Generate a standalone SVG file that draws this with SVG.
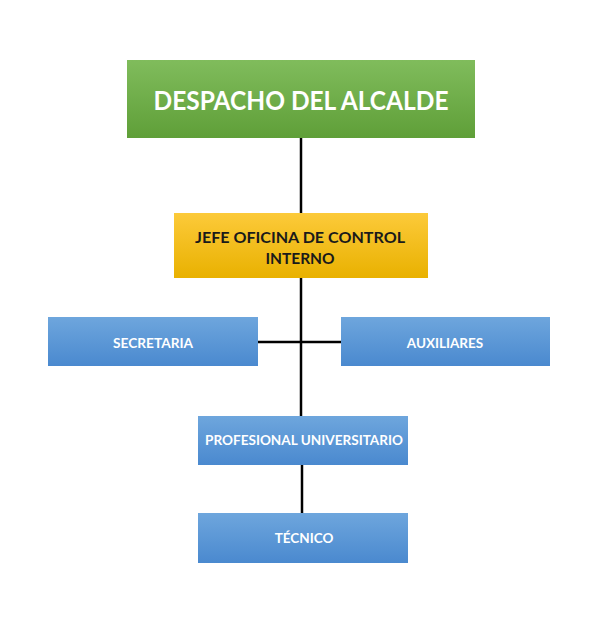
<svg xmlns="http://www.w3.org/2000/svg" width="600" height="620" viewBox="0 0 600 620">
<defs>
<linearGradient id="gGreen" x1="0" y1="0" x2="0" y2="1"><stop offset="0" stop-color="#80bc5c"/><stop offset="1" stop-color="#5f9f38"/></linearGradient>
<linearGradient id="gYellow" x1="0" y1="0" x2="0" y2="1"><stop offset="0" stop-color="#fcca3a"/><stop offset="1" stop-color="#e9b100"/></linearGradient>
<linearGradient id="gBlue" x1="0" y1="0" x2="0" y2="1"><stop offset="0" stop-color="#6ea6dd"/><stop offset="1" stop-color="#4a89cf"/></linearGradient>
<style>
text{font-family:Lato,"Open Sans","Liberation Sans",sans-serif;font-weight:bold;text-anchor:middle}
.w{fill:#ffffff}
.d{fill:#1a1a1a}
.c{stroke:#000;stroke-width:2.5;fill:none}
</style>
</defs>
<rect width="600" height="620" fill="#ffffff"/>
<g id="connectors">
<line class="c" x1="301" y1="138" x2="301" y2="213"/>
<line class="c" x1="301" y1="278" x2="301" y2="416"/>
<line class="c" x1="258" y1="342" x2="341" y2="342"/>
<line class="c" x1="302" y1="465" x2="302" y2="513"/>
</g>
<g id="despacho">
<rect x="127" y="60" width="348" height="78" fill="url(#gGreen)"/>
<text class="w" x="301" y="110" font-size="26" textLength="295" lengthAdjust="spacingAndGlyphs">DESPACHO DEL ALCALDE</text>
</g>
<g id="jefe">
<rect x="174" y="213" width="254" height="65" fill="url(#gYellow)"/>
<text class="d" x="300" y="243" font-size="15.5" textLength="210" lengthAdjust="spacingAndGlyphs">JEFE OFICINA DE CONTROL</text>
<text class="d" x="300" y="264" font-size="15.5">INTERNO</text>
</g>
<g id="secretaria">
<rect x="48" y="317" width="210" height="49" fill="url(#gBlue)"/>
<text class="w" x="153" y="348" font-size="13.5" textLength="80" lengthAdjust="spacingAndGlyphs">SECRETARIA</text>
</g>
<g id="auxiliares">
<rect x="341" y="317" width="209" height="49" fill="url(#gBlue)"/>
<text class="w" x="445" y="348" font-size="13.5">AUXILIARES</text>
</g>
<g id="profesional">
<rect x="198" y="416" width="210" height="49" fill="url(#gBlue)"/>
<text class="w" x="304" y="445" font-size="13.5" textLength="198" lengthAdjust="spacingAndGlyphs">PROFESIONAL UNIVERSITARIO</text>
</g>
<g id="tecnico">
<rect x="198" y="513" width="210" height="50" fill="url(#gBlue)"/>
<text class="w" x="304" y="543" font-size="13.5">TÉCNICO</text>
</g>
</svg>
